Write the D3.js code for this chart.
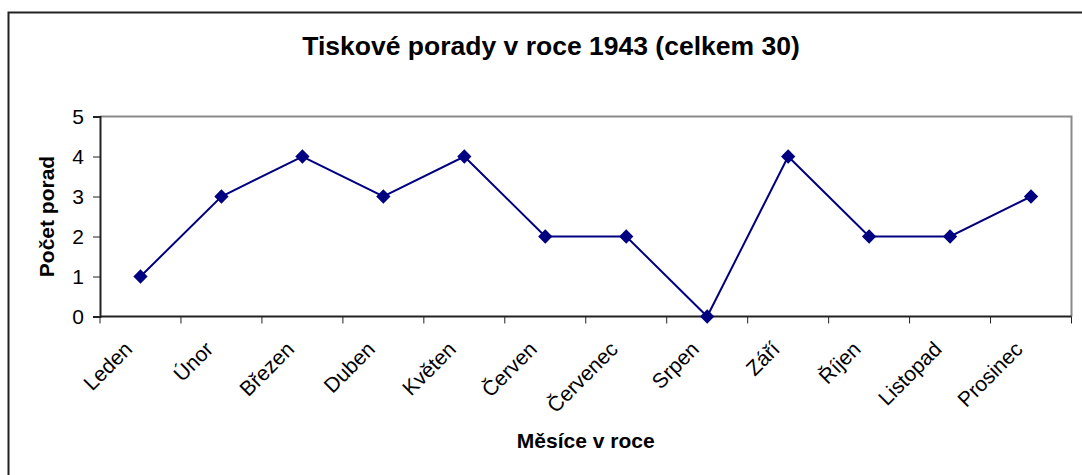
<!DOCTYPE html>
<html>
<head>
<meta charset="utf-8">
<script src="https://cdn.jsdelivr.net/npm/d3@7"></script>
<style>
  body { margin: 0; background: #fff; }
  text { font-family: Arial, "Liberation Sans", sans-serif; fill: #000; }
</style>
</head>
<body>
<div id="chart"></div>
<script>
// Months of 1943 and the number of press conferences in each
const months = ["Leden", "Únor", "Březen", "Duben", "Květen", "Červen",
                "Červenec", "Srpen", "Září", "Říjen", "Listopad", "Prosinec"];
const conferences = [1, 3, 4, 3, 4, 2, 2, 0, 4, 2, 2, 3];
const yTicks = [0, 1, 2, 3, 4, 5];

const chartTitle = "Tiskové porady v roce 1943 (celkem 30)";
const xTitle = "Měsíce v roce";
const yTitle = "Počet porad";

const width = 1082, height = 475;
const margin = {top: 116.5, right: 10.5, bottom: 158.5, left: 100};
const plotW = width - margin.left - margin.right;
const plotH = height - margin.top - margin.bottom;

const svg = d3.select("#chart")
              .append("svg")
              .attr("width", width)
              .attr("height", height);

// Outer chart frame (runs off the right and bottom of the window)
svg.append("rect")
   .attr("x", 8.5).attr("y", 12.5)
   .attr("width", 1200).attr("height", 600)
   .attr("fill", "none")
   .attr("stroke", "#222")
   .attr("stroke-width", 2);

svg.append("text")
   .attr("x", 551).attr("y", 55)
   .attr("text-anchor", "middle")
   .style("font-size", "26.5px")
   .style("font-weight", "bold")
   .text(chartTitle);

const g = svg.append("g")
             .attr("transform", "translate(" + margin.left + "," + margin.top + ")");

const xScale = d3.scaleBand()
                 .domain(months)
                 .range([0, plotW]);

const yScale = d3.scaleLinear()
                 .domain([0, 5])
                 .range([plotH, 0]);

// Plot area border, grey on top and right
g.append("path")
 .attr("d", "M0,0H" + plotW + "V" + plotH)
 .attr("fill", "none")
 .attr("stroke", "#8a8a8a")
 .attr("stroke-width", 2);

// Y axis
const yAxis = g.append("g")
               .call(d3.axisLeft(yScale).tickValues(yTicks).tickFormat(d3.format("d"))
                       .tickSize(7).tickPadding(9));
yAxis.select(".domain").attr("stroke", "#222").attr("stroke-width", 2);
yAxis.selectAll(".tick line").attr("stroke", "#222").attr("stroke-width", 1);
yAxis.selectAll(".tick text")
     .style("font-size", "21px")
     .attr("fill", "#000");

// X axis: ticks sit between the categories
const xAxis = g.append("g")
               .attr("transform", "translate(0," + plotH + ")");
xAxis.append("line")
     .attr("x1", 0).attr("x2", plotW)
     .attr("stroke", "#222").attr("stroke-width", 2);
xAxis.selectAll(".sep")
     .data(d3.range(months.length + 1))
     .enter()
     .append("line")
     .attr("x1", i => i * xScale.step())
     .attr("x2", i => i * xScale.step())
     .attr("y1", 0).attr("y2", 7)
     .attr("stroke", "#222");
xAxis.selectAll(".lbl")
     .data(months)
     .enter()
     .append("text")
     .attr("transform", d => "translate(" + (xScale(d) + xScale.bandwidth() / 2 - 7) + ",34) rotate(-45)")
     .attr("text-anchor", "end")
     .style("font-size", "21px")
     .text(d => d);

// Axis titles
svg.append("text")
   .attr("x", margin.left + plotW / 2).attr("y", 448)
   .attr("text-anchor", "middle")
   .style("font-size", "21px")
   .style("font-weight", "bold")
   .text(xTitle);

svg.append("text")
   .attr("transform", "translate(47," + (margin.top + plotH / 2) + ") rotate(-90)")
   .attr("text-anchor", "middle")
   .attr("dy", "0.35em")
   .style("font-size", "21px")
   .style("font-weight", "bold")
   .text(yTitle);

// Series line and diamond markers
const cx = (d, i) => xScale(months[i]) + xScale.bandwidth() / 2;
g.append("path")
 .datum(conferences)
 .attr("d", d3.line().x(cx).y(d => yScale(d)))
 .attr("fill", "none")
 .attr("stroke", "#000080")
 .attr("stroke-width", 2);

g.selectAll(".marker")
 .data(conferences)
 .enter()
 .append("path")
 .attr("d", d3.symbol().type(d3.symbolDiamond2).size(130))
 .attr("transform", (d, i) => "translate(" + cx(d, i) + "," + yScale(d) + ")")
 .attr("fill", "#000080");
</script>
</body>
</html>
